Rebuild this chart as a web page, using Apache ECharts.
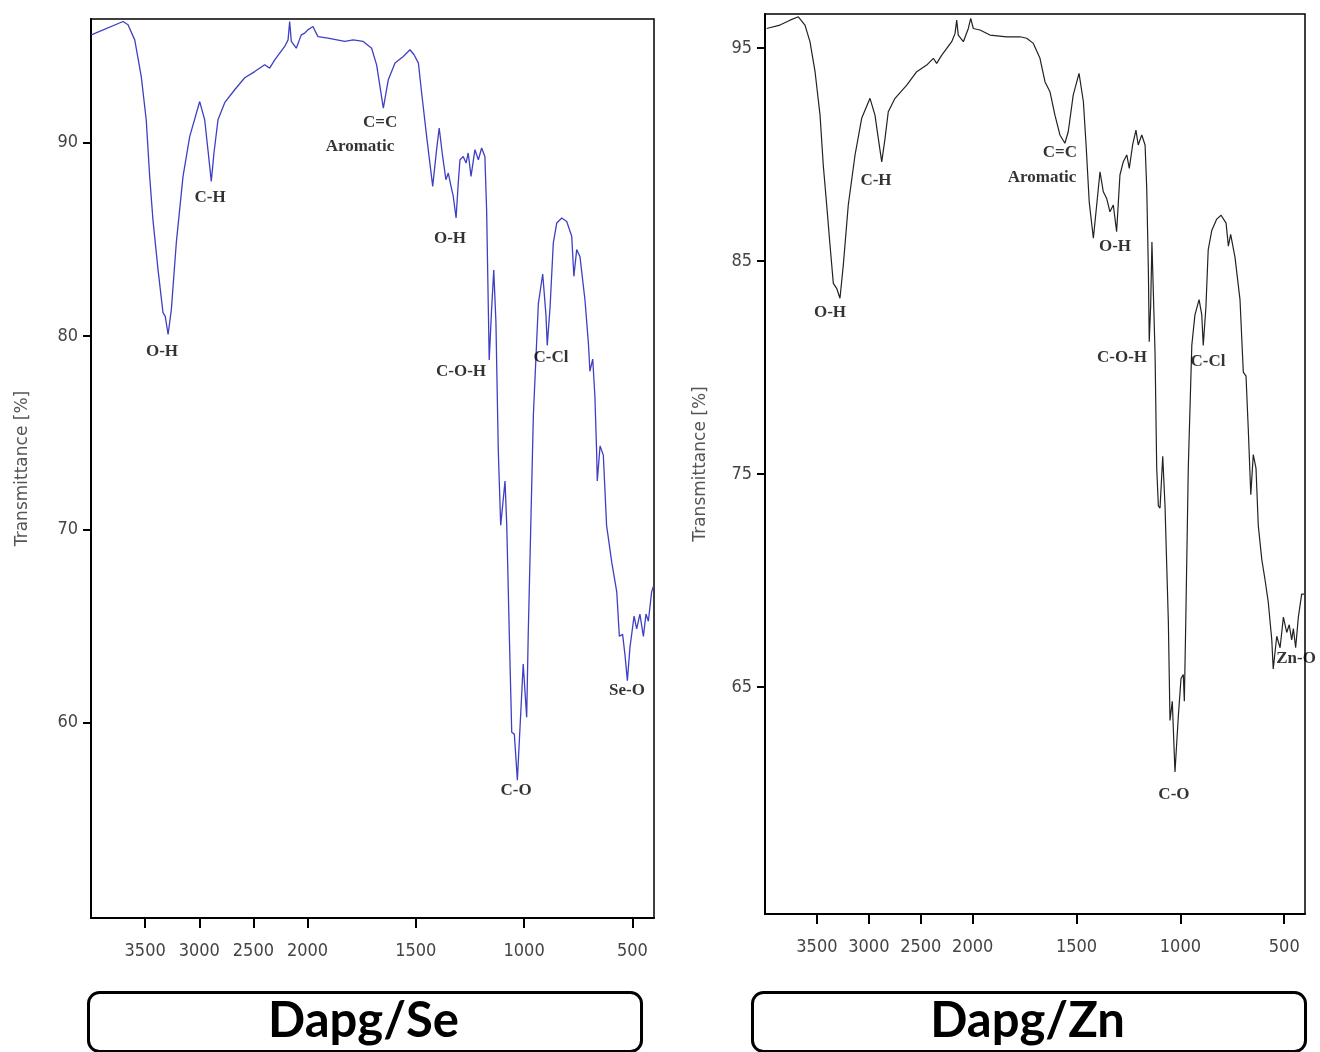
<!DOCTYPE html>
<html>
<head>
<meta charset="utf-8">
<title>FTIR Dapg/Se and Dapg/Zn</title>
<script src="https://cdn.jsdelivr.net/npm/echarts@6/dist/echarts.min.js"></script>
<style>
  body { margin: 0; background: #fff; }
  #main { width: 1320px; height: 1052px; }
</style>
</head>
<body>
<div id="main"></div>
<script>
// wavenumber ticks (cm-1), the axis is compressed by 2 above 2000
var tickWavenumbers = [3500, 3000, 2500, 2000, 1500, 1000, 500];
var seTicks = [60, 70, 80, 90];
var znTicks = [65, 75, 85, 95];

// Dapg/Se spectrum
var seWavenumber = [3997, 3704, 3658, 3596, 3536, 3490, 3458, 3428, 3381, 3335, 3314, 3288, 3258, 3212, 3150, 3088, 2996, 2950, 2920, 2889,
    2864, 2827, 2765, 2673, 2580, 2488, 2396, 2350, 2303, 2211, 2180, 2165, 2150, 2104, 2058, 2026, 1998, 1975, 1952, 1906,
    1828, 1789, 1743, 1704, 1681, 1650, 1627, 1596, 1558, 1527, 1508, 1488, 1473, 1450, 1422, 1404, 1392, 1376, 1361, 1350,
    1334, 1327, 1314, 1304, 1296, 1281, 1268, 1258, 1245, 1227, 1211, 1196, 1181, 1173, 1165, 1161, 1150, 1140, 1130, 1119,
    1108, 1101, 1088, 1080, 1068, 1057, 1045, 1031, 1019, 1004, 988, 981, 969, 957, 934, 914, 899, 893, 880, 865,
    849, 826, 803, 780, 770, 757, 742, 719, 703, 696, 683, 673, 665, 662, 649, 634, 619, 595, 572, 560,
    545, 534, 523, 511, 492, 480, 465, 449, 437, 426, 411, 403];
var seTransmittance = [95.58, 96.27, 96.10, 95.32, 93.43, 91.19, 88.26, 86.02, 83.44, 81.21, 81.02, 80.08, 81.37, 84.83, 88.26, 90.33, 92.13, 91.19, 89.64, 88.00,
    89.48, 91.19, 92.07, 92.74, 93.36, 93.68, 94.03, 93.86, 94.29, 94.98, 95.32, 96.27, 95.24, 94.89, 95.58, 95.67, 95.84, 96.01, 95.49, 95.41,
    95.24, 95.32, 95.24, 94.89, 94.03, 91.79, 93.26, 94.12, 94.46, 94.81, 94.55, 94.12, 92.57, 90.33, 87.74, 89.64, 90.76, 89.29, 88.09, 88.43,
    87.57, 87.22, 86.11, 87.92, 89.12, 89.29, 88.95, 89.47, 88.26, 89.64, 89.12, 89.73, 89.29, 86.54, 81.37, 78.76, 81.37, 83.41, 80.72, 74.03,
    70.21, 70.11, 72.50, 70.21, 64.47, 59.51, 59.41, 57.03, 59.70, 63.04, 60.28, 64.47, 70.21, 75.94, 81.68, 83.21, 81.11, 79.52, 81.49, 84.82,
    85.85, 86.11, 85.93, 85.16, 83.09, 84.47, 84.12, 81.89, 79.65, 78.18, 78.81, 76.90, 74.03, 72.50, 74.32, 73.84, 70.21, 68.29, 66.77, 64.47,
    64.57, 63.51, 62.18, 63.90, 65.52, 64.85, 65.62, 64.47, 65.62, 65.25, 66.77, 67.05];

// Dapg/Zn spectrum
var znWavenumber = [3984, 3856, 3759, 3679, 3615, 3567, 3518, 3470, 3439, 3406, 3374, 3342, 3310, 3278, 3246, 3198, 3133, 3069, 2989, 2941,
    2909, 2876, 2844, 2813, 2748, 2635, 2539, 2443, 2379, 2347, 2298, 2202, 2170, 2154, 2139, 2090, 2042, 2019, 1997, 1965,
    1917, 1836, 1772, 1740, 1708, 1676, 1652, 1628, 1604, 1580, 1556, 1540, 1516, 1488, 1467, 1454, 1439, 1419, 1403, 1387,
    1371, 1355, 1339, 1323, 1307, 1291, 1275, 1258, 1246, 1230, 1214, 1203, 1186, 1170, 1162, 1154, 1150, 1143, 1137, 1122,
    1114, 1106, 1098, 1085, 1074, 1058, 1050, 1039, 1026, 1010, 997, 986, 981, 974, 962, 945, 930, 910, 897, 890,
    877, 866, 849, 825, 804, 780, 769, 758, 737, 713, 697, 684, 673, 661, 649, 636, 625, 608, 593, 577,
    560, 553, 536, 520, 504, 488, 476, 464, 456, 445, 432, 416, 405];
var znTransmittance = [95.92, 96.08, 96.31, 96.47, 96.08, 95.30, 93.89, 91.85, 89.51, 87.63, 85.75, 83.95, 83.72, 83.25, 84.81, 87.63, 89.98, 91.70, 92.64, 91.85,
    90.76, 89.66, 90.76, 92.01, 92.64, 93.26, 93.89, 94.20, 94.52, 94.28, 94.67, 95.30, 95.69, 96.31, 95.61, 95.30, 95.92, 96.39, 95.92, 95.85,
    95.61, 95.53, 95.53, 95.46, 95.22, 94.52, 93.42, 92.95, 91.85, 90.92, 90.53, 91.07, 92.79, 93.81, 92.48, 90.45, 87.78, 86.07, 87.63, 89.19,
    88.25, 87.94, 87.31, 87.63, 86.38, 89.04, 89.66, 89.98, 89.35, 90.45, 91.15, 90.45, 90.92, 90.45, 88.41, 84.50, 81.21, 82.93, 85.89, 80.68,
    75.28, 73.50, 73.40, 75.83, 73.50, 68.10, 63.43, 64.33, 61.01, 63.61, 65.40, 65.58, 64.33, 68.10, 75.28, 81.04, 82.47, 83.19, 82.47, 81.04,
    82.84, 85.53, 86.43, 86.97, 87.15, 86.78, 85.70, 86.25, 85.17, 83.19, 79.78, 79.60, 77.08, 74.03, 75.91, 75.28, 72.59, 70.98, 70.07, 69.00,
    67.21, 65.85, 67.38, 66.84, 68.28, 67.56, 67.92, 67.21, 67.74, 66.84, 68.28, 69.36, 69.36];

// band labels
var seBandNames = ['O-H', 'C-H', 'C=C', 'Aromatic', 'O-H', 'C-O-H', 'C-Cl', 'Se-O', 'C-O'];
var seBandWavenumber = [3344, 2900, 1665, 1758, 1342, 1291, 876, 525, 1037];
var seBandValue = [79.2, 87.16, 91.03, 89.79, 85.04, 78.17, 78.89, 61.68, 56.51];

var znBandNames = ['O-H', 'C-H', 'C=C', 'Aromatic', 'O-H', 'C-O-H', 'C-Cl', 'Zn-O', 'C-O'];
var znBandWavenumber = [3374, 2931, 1580, 1666, 1315, 1281, 867, 443, 1031];
var znBandValue = [82.56, 88.80, 90.07, 88.94, 85.66, 80.45, 80.26, 66.31, 59.93];

function toAxis(w) {
    return w > 2000 ? 2000 + (w - 2000) / 2 : w;
}
function fromAxis(p) {
    return p > 2000 ? 2000 + (p - 2000) * 2 : p;
}
function spectrum(ws, ts) {
    return ws.map(function (w, i) { return [toAxis(w), ts[i]]; });
}
function bands(names, ws, ts) {
    return names.map(function (n, i) { return { name: n, value: [toAxis(ws[i]), ts[i]] }; });
}

var tickFont = '"DejaVu Sans Condensed", "Liberation Sans Narrow", "Liberation Sans", sans-serif';

function xAxisOf(idx) {
    return {
        type: 'value',
        gridIndex: idx,
        min: 400,
        max: 3000,
        inverse: true,
        axisLine: { lineStyle: { color: '#000', width: 2 } },
        axisTick: { length: 10, lineStyle: { color: '#000', width: 2 }, customValues: tickWavenumbers.map(toAxis) },
        axisLabel: {
            margin: 24, color: '#444', fontSize: 18, fontFamily: tickFont,
            customValues: tickWavenumbers.map(toAxis),
            formatter: function (v) { return Math.round(fromAxis(v)); }
        },
        splitLine: { show: false }
    };
}
function yAxisOf(idx, min, max, ticks, gap) {
    return {
        type: 'value',
        gridIndex: idx,
        min: min,
        max: max,
        name: 'Transmittance [%]',
        nameLocation: 'middle',
        nameRotate: 90,
        nameGap: gap,
        nameTextStyle: { color: '#555', fontSize: 17, fontFamily: 'DejaVu Sans' },
        axisLine: { show: true, lineStyle: { color: '#000', width: 2 } },
        axisTick: { show: true, length: 8, lineStyle: { color: '#000', width: 2 }, customValues: ticks },
        axisLabel: { margin: 13, color: '#444', fontSize: 18, fontFamily: tickFont, customValues: ticks },
        splitLine: { show: false }
    };
}
function bandSeries(idx, data) {
    return {
        type: 'scatter',
        xAxisIndex: idx,
        yAxisIndex: idx,
        symbolSize: 0,
        data: data,
        silent: true,
        z: 5,
        label: {
            show: true,
            position: 'inside',
            formatter: '{b}',
            color: '#000',
            fontSize: 17,
            fontWeight: 'bold',
            fontFamily: 'Liberation Serif'
        }
    };
}
function titleBox(x, w, text) {
    return [{
        type: 'rect',
        left: x, top: 991,
        shape: { width: w, height: 59, r: 11 },
        style: { fill: '#fff', stroke: '#000', lineWidth: 3 }
    }, {
        type: 'text',
        x: x + w / 2, y: 1021,
        style: { text: text, font: 'bold 49px Lato', fill: '#000', align: 'center', verticalAlign: 'middle' }
    }];
}

var chart = echarts.init(document.getElementById('main'));
var option = {
    animation: false,
    backgroundColor: '#fff',
    grid: [
        { left: 91, top: 19, width: 563, height: 899, show: true, borderColor: '#000', borderWidth: 1.5 },
        { left: 765, top: 14, width: 540, height: 900, show: true, borderColor: '#000', borderWidth: 1.5 }
    ],
    xAxis: [xAxisOf(0), xAxisOf(1)],
    yAxis: [
        yAxisOf(0, 49.9, 96.4, seTicks, 60),
        yAxisOf(1, 54.34, 96.6, znTicks, 56)
    ],
    series: [
        {
            type: 'line',
            xAxisIndex: 0, yAxisIndex: 0,
            data: spectrum(seWavenumber, seTransmittance),
            symbol: 'none',
            lineStyle: { color: '#3f3fc4', width: 1.3 }
        },
        {
            type: 'line',
            xAxisIndex: 1, yAxisIndex: 1,
            data: spectrum(znWavenumber, znTransmittance),
            symbol: 'none',
            lineStyle: { color: '#222', width: 1.2 }
        },
        bandSeries(0, bands(seBandNames, seBandWavenumber, seBandValue)),
        bandSeries(1, bands(znBandNames, znBandWavenumber, znBandValue))
    ],
    graphic: titleBox(87, 553, 'Dapg/Se').concat(titleBox(751, 553, 'Dapg/Zn'))
};
chart.setOption(option);
</script>
</body>
</html>
